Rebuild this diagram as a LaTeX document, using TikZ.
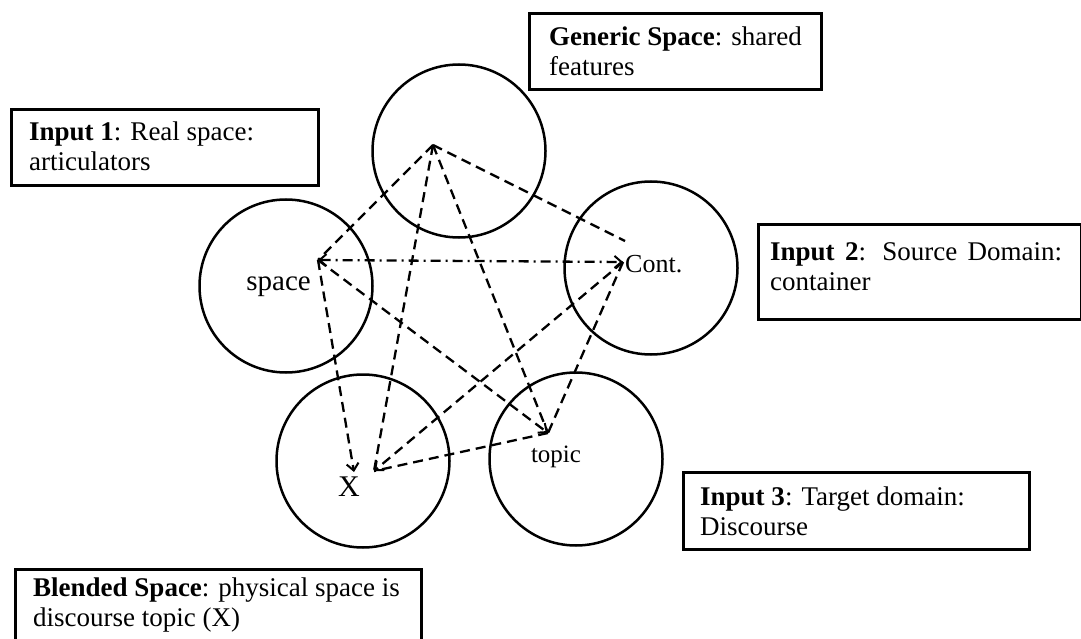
\documentclass[tikz,border=0pt]{standalone}
\usepackage{fontspec}
\setmainfont{Liberation Serif}
\usetikzlibrary{arrows.meta}
\begin{document}
\begin{tikzpicture}[x=1pt,y=-1pt,
  circ/.style={circle, draw, line width=2.5pt, minimum size=173pt, inner sep=0pt},
  frame/.style={draw, line width=2.6pt, rectangle, anchor=north west, inner sep=0pt},
  boxtext/.style={anchor=base west, inner sep=0pt, font=\fontsize{27}{30}\selectfont},
  barb/.tip={Straight Barb[length=7pt,width=12pt,line width=2pt]},
  link/.style={line width=2.3pt, dash pattern=on 10pt off 6pt},
  dashdotlink/.style={line width=2.3pt, dash pattern=on 10pt off 5pt on 2pt off 5pt, barb-barb}
]
\useasboundingbox (0,0) rectangle (1081,639);

% circles (mental spaces)
\node[circ] (gen)   at (459,151) {};
\node[circ] (in1)   at (286,286) {};
\node[circ] (in2)   at (651,268) {};
\node[circ] (blend) at (363,461) {};
\node[circ] (in3)   at (576,459) {};

% mapping points
\coordinate (G)  at (433,145);
\coordinate (S)  at (318,260);
\coordinate (C)  at (623,262);
\coordinate (Ce) at (625,241);
\coordinate (T)  at (548,433);
\coordinate (X1) at (354,472);
\coordinate (X2) at (374,471);

% point labels
\node[font=\fontsize{29}{32}\selectfont, anchor=base east, inner sep=0pt] (spacelbl) at (311,290) {space};
\node[font=\fontsize{26}{30}\selectfont, anchor=west, inner sep=0pt] (contlbl) at (625,264) {Cont.};
\node[font=\fontsize{25}{28}\selectfont, anchor=base, inner sep=0pt] (topiclbl) at (556,462) {topic};
\node[font=\fontsize{30}{32}\selectfont, anchor=base, inner sep=0pt] (xlbl) at (349,496) {X};

% connectors
\draw[link] (G) -- (S);
\draw[link] (G) -- (Ce);
\draw[link] (G) -- (T);
\draw[link] (G) -- (X2);
\draw[link, -barb] (S) -- (X1);
\draw[link, -barb] (S) -- (T);
\draw[link, -barb] (C) -- (X2);
\draw[link] (C) -- (T);
\draw[link] (T) -- (X2);
\draw[dashdotlink] (S) -- (C);

% text boxes
\node[frame, minimum width=292pt, minimum height=76pt] (genbox) at (528,12) {};
\node[boxtext] (gentext) at (549,46) {\begin{tabular}[t]{@{}l@{}}\textbf{Generic Space}: shared\\features\end{tabular}};

\node[frame, minimum width=307pt, minimum height=76pt] (in1box) at (10,108) {};
\node[boxtext] (in1text) at (29,141) {\begin{tabular}[t]{@{}l@{}}\textbf{Input 1}: Real space:\\articulators\end{tabular}};

\node[frame, minimum width=323pt, minimum height=95pt] (in2box) at (757,223) {};
\node[boxtext] (in2text) at (770,260) {\begin{tabular}[t]{@{}l@{}}\makebox[292pt][s]{\textbf{Input 2}: Source Domain:}\\container\end{tabular}};

\node[frame, minimum width=346pt, minimum height=77pt] (in3box) at (682,471) {};
\node[boxtext] (in3text) at (700,505) {\begin{tabular}[t]{@{}l@{}}\textbf{Input 3}: Target domain:\\Discourse\end{tabular}};

\node[frame, minimum width=406pt, minimum height=76pt] (blendbox) at (14,568) {};
\node[boxtext] (blendtext) at (33,596) {\begin{tabular}[t]{@{}l@{}}\textbf{Blended Space}: physical space is\\discourse topic (X)\end{tabular}};
\end{tikzpicture}
\end{document}
